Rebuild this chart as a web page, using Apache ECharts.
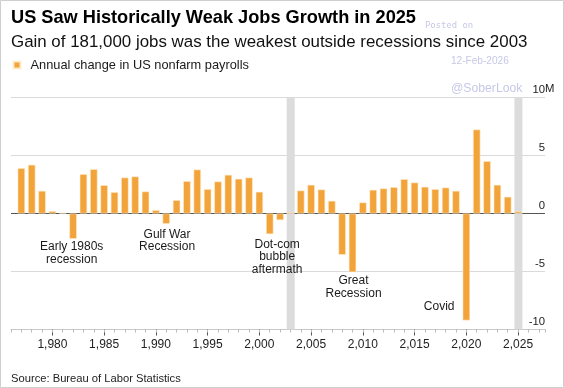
<!DOCTYPE html>
<html>
<head>
<meta charset="utf-8">
<script src="https://cdn.jsdelivr.net/npm/echarts@6/dist/echarts.min.js"></script>
<style>
html,body{margin:0;padding:0;background:#fff;}
#c{width:564px;height:388px;}
</style>
</head>
<body>
<div id="c"></div>
<script>
// ---- data ----
const years = [1977,1978,1979,1980,1981,1982,1983,1984,1985,1986,1987,1988,1989,1990,1991,1992,1993,1994,1995,1996,1997,1998,1999,2000,2001,2002,2003,2004,2005,2006,2007,2008,2009,2010,2011,2012,2013,2014,2015,2016,2017,2018,2019,2020,2021,2022,2023,2024,2025];
const payrollChange = [3.91,4.20,1.95,0.20,0.05,-2.18,3.39,3.82,2.44,1.84,3.10,3.19,1.90,0.29,-0.89,1.15,2.79,3.79,2.10,2.76,3.33,2.99,3.10,1.87,-1.78,-0.57,0.10,1.98,2.47,2.07,1.09,-3.56,-5.06,0.95,2.04,2.16,2.27,2.96,2.67,2.30,2.10,2.24,1.95,-9.22,7.24,4.51,2.47,1.44,0.181];
const highlightYears = [2003, 2025];
const xTickLabels = [1980,1985,1990,1995,2000,2005,2010,2015,2020,2025];
const yTickValues = [-10,-5,0,5,10];
const annotationTexts = ['Early 1980s\nrecession','Gulf War\nRecession','Dot-com\nbubble\naftermath','Great\nRecession','Covid'];
const annotationYears = [1981.86,1991.08,2001.72,2009.1,2017.37];
const annotationValues = [-3.42,-2.34,-3.74,-6.34,-8.05];

const seriesName = 'Annual change in US nonfarm payrolls';
const FONT = '"Liberation Sans", Arial, sans-serif';

const chart = echarts.init(document.getElementById('c'), null, {renderer:'canvas'});

const barData = years.map((y,i)=>[y, payrollChange[i]]);
const bandUp = highlightYears.map(y=>[y, yTickValues[yTickValues.length-1]]);
const bandDown = highlightYears.map(y=>[y, yTickValues[0]]);

const option = {
  animation: false,
  textStyle: {fontFamily: FONT},
  grid: {left: 11, right: 19, top: 97.5, bottom: 58.5, containLabel: false},
  legend: {
    data: [seriesName],
    left: 12.5, top: 58.5, padding: 0,
    icon: 'rect', itemWidth: 7, itemHeight: 7,
    textStyle: {fontSize: 12.8, color: '#1a1a1a', fontFamily: FONT, padding: [0,0,0,5]},
    selectedMode: false
  },
  xAxis: [
    {
      type: 'value', min: 1976, max: 2027.6,
      splitLine: {show: false},
      axisLine: {show: true, onZero: false, lineStyle: {color: '#c8c8c8', width: 1}},
      axisTick: {show: true, customValues: xTickLabels, length: 6, lineStyle: {color: '#555'}},
      axisLabel: {show: true, customValues: xTickLabels, fontSize: 12, color: '#222', margin: 9, fontFamily: FONT}
    },
    {
      type: 'value', min: 1976, max: 2027.6, interval: 1, position: 'bottom',
      splitLine: {show: false},
      axisLine: {show: false, onZero: false},
      axisTick: {show: true, length: 3, lineStyle: {color: '#bbb'}},
      axisLabel: {show: false}
    }
  ],
  yAxis: {
    type: 'value', min: -10, max: 10, interval: 5, position: 'right',
    axisLine: {show: false},
    axisTick: {show: false},
    splitLine: {show: true, lineStyle: {color: ['#dadada','#dadada','#555','#dadada','#dadada'], width: 1}},
    axisLabel: {
      show: true, align: 'right', verticalAlign: 'bottom', margin: 0,
      fontSize: 11.3, color: '#222', padding: [0,0,2,0], fontFamily: FONT,
      formatter: v => String(v)
    }
  },
  series: [
    {
      type: 'bar', name: 'bandUp', stack: 'band', data: bandUp,
      barWidth: 8, barGap: '-100%', z: 1, silent: true,
      itemStyle: {color: '#dcdcdc'}
    },
    {
      type: 'bar', name: 'bandDown', stack: 'band', data: bandDown,
      barWidth: 8, barGap: '-100%', z: 1, silent: true,
      itemStyle: {color: '#dcdcdc'}
    },
    {
      type: 'bar', name: seriesName, data: barData,
      barWidth: 7.4, barGap: '-100%', z: 3,
      itemStyle: {color: '#F2A43B', borderColor: 'rgba(255,236,205,0.9)', borderWidth: 0.6},
      markPoint: {
        symbol: 'rect', symbolSize: 1,
        itemStyle: {color: 'rgba(0,0,0,0)'},
        label: {show: true, position: 'inside', color: '#1a1a1a', fontSize: 12, lineHeight: 12.6, align: 'center', fontFamily: FONT},
        data: annotationTexts.map((t,i)=>({coord:[annotationYears[i], annotationValues[i]], value: t, label:{formatter: t}}))
      }
    }
  ],
  graphic: [
    {type:'rect', shape:{x:0.5,y:0.5,width:563,height:387}, style:{fill:'none', stroke:'#cfcfcf', lineWidth:1}, silent:true, z:100},
    {type:'text', style:{x: 11, y: 17.5, textVerticalAlign:'middle', text:'US Saw Historically Weak Jobs Growth in 2025', font:'bold 18.2px '+FONT, fill:'#000'}},
    {type:'text', style:{x: 11, y: 42.5, textVerticalAlign:'middle', text:'Gain of 181,000 jobs was the weakest outside recessions since 2003', font:'16.9px '+FONT, fill:'#111'}, z: 10},
    {type:'text', style:{x: 425, y: 25.5, textVerticalAlign:'middle', text:'Posted on', font:'8.9px "DejaVu Sans Mono", monospace', fill:'#c6c8e6'}, z:50},
    {type:'text', style:{x: 451, y: 61.2, textVerticalAlign:'middle', text:'12-Feb-2026', font:'10.1px '+FONT, fill:'#c6c8e6'}, z:50},
    {type:'text', style:{x: 451, y: 89, textVerticalAlign:'middle', text:'@SoberLook', font:'12.2px '+FONT, fill:'#c6c8e6'}, z:50},
    {type:'text', style:{x: 545, y: 88.8, textVerticalAlign:'middle', text:'M', font:'11.3px '+FONT, fill:'#222'}},
    {type:'text', style:{x: 11, y: 379, textVerticalAlign:'middle', text:'Source: Bureau of Labor Statistics', font:'11.2px '+FONT, fill:'#222'}}
  ]
};
chart.setOption(option);
</script>
</body>
</html>
